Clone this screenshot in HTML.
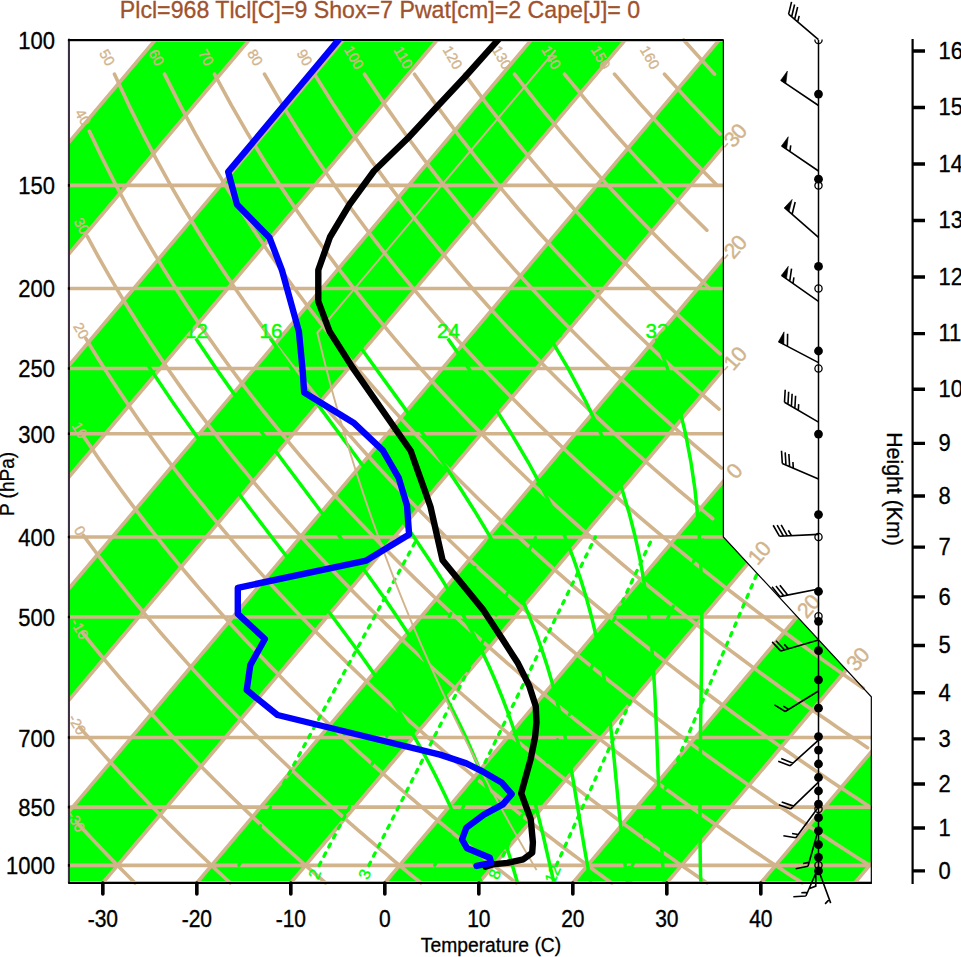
<!DOCTYPE html><html><head><meta charset="utf-8"><style>html,body{margin:0;padding:0;background:#fff;overflow:hidden}svg{display:block}</style></head><body><svg width="961" height="957" viewBox="0 0 961 957" font-family="'Liberation Sans', sans-serif"><defs><clipPath id="clipOut"><path d="M69 882.88 L69 40 L723.36 40 L723.36 536.99 L871.32 696.78 L871.32 882.88 Z"/></clipPath></defs><rect width="961" height="957" fill="#fff"/><path d="M-586.72 920.35 L186.75 2.53 L280.75 2.53 L-492.72 920.35 Z M-398.72 920.35 L374.74 2.53 L468.74 2.53 L-304.73 920.35 Z M-210.73 920.35 L562.74 2.53 L656.74 2.53 L-116.73 920.35 Z M-22.73 920.35 L750.73 2.53 L844.73 2.53 L71.27 920.35 Z M165.26 920.35 L938.73 2.53 L1032.73 2.53 L259.26 920.35 Z M353.26 920.35 L1126.73 2.53 L1220.72 2.53 L447.26 920.35 Z M541.25 920.35 L1314.72 2.53 L1408.72 2.53 L635.25 920.35 Z M729.25 920.35 L1502.72 2.53 L1596.71 2.53 L823.25 920.35 Z" fill="#00FF00" clip-path="url(#clipOut)"/>
<path d="M69.00 882.88 L871.32 882.88 M69.00 865.39 L871.32 865.39 M69.00 807.14 L871.32 807.14 M69.00 737.54 L871.32 737.54 M69.00 616.93 L797.38 616.93 M69.00 536.94 L723.36 536.94 M69.00 433.81 L723.36 433.81 M69.00 368.46 L723.36 368.46 M69.00 288.47 L723.36 288.47 M69.00 185.34 L723.36 185.34 M69.00 40.00 L723.36 40.00" stroke="#D2B48C" stroke-width="3.6" fill="none" clip-path="url(#clipOut)"/>
<path d="M-586.72 920.35 L186.75 2.53 M-492.72 920.35 L280.75 2.53 M-398.72 920.35 L374.74 2.53 M-304.73 920.35 L468.74 2.53 M-210.73 920.35 L562.74 2.53 M-116.73 920.35 L656.74 2.53 M-22.73 920.35 L750.73 2.53 M71.27 920.35 L844.73 2.53 M165.26 920.35 L938.73 2.53 M259.26 920.35 L1032.73 2.53 M353.26 920.35 L1126.73 2.53 M447.26 920.35 L1220.72 2.53 M541.25 920.35 L1314.72 2.53 M635.25 920.35 L1408.72 2.53 M729.25 920.35 L1502.72 2.53 M823.25 920.35 L1596.71 2.53" stroke="#D2B48C" stroke-width="3.6" fill="none" clip-path="url(#clipOut)"/>
<path d="M77.86 823.62 L81.56 827.63 L85.24 831.59 L88.91 835.51 L92.55 839.38 L96.18 843.21 L99.79 847.01 L103.38 850.76 L106.96 854.48 L110.51 858.15 L114.05 861.79 L117.58 865.39 L121.09 868.96 L124.58 872.49 L128.05 875.99 L131.51 879.45 L134.96 882.88 L134.96 882.88 M79.57 727.15 L84.08 732.38 L88.56 737.54 L93.01 742.62 L97.43 747.64 L101.82 752.58 L106.19 757.46 L110.54 762.27 L114.85 767.02 L119.14 771.7 L123.41 776.33 L127.65 780.9 L131.87 785.41 L136.06 789.86 L140.23 794.26 L144.38 798.6 L148.5 802.9 L152.6 807.14 L156.68 811.33 L160.73 815.47 L164.77 819.57 L168.78 823.62 L172.77 827.63 L176.74 831.59 L180.69 835.51 L184.62 839.38 L188.53 843.21 L192.42 847.01 L196.29 850.76 L200.14 854.48 L203.97 858.15 L207.78 861.79 L211.58 865.39 L215.35 868.96 L219.11 872.49 L222.85 875.99 L226.57 879.45 L230.27 882.88 L230.27 882.88 M82.28 632.36 L87.73 639.16 L93.13 645.84 L98.49 652.39 L103.81 658.83 L109.09 665.15 L114.33 671.36 L119.53 677.47 L124.7 683.47 L129.83 689.38 L134.92 695.19 L139.97 700.91 L144.99 706.54 L149.98 712.08 L154.93 717.53 L159.84 722.91 L164.73 728.2 L169.58 733.42 L174.4 738.56 L179.19 743.63 L183.95 748.63 L188.67 753.56 L193.37 758.43 L198.04 763.23 L202.68 767.96 L207.29 772.63 L211.87 777.25 L216.43 781.8 L220.96 786.3 L225.46 790.74 L229.93 795.13 L234.38 799.46 L238.81 803.75 L243.21 807.98 L247.58 812.16 L251.93 816.3 L256.25 820.38 L260.55 824.43 L264.83 828.42 L269.09 832.37 L273.32 836.28 L277.53 840.15 L281.71 843.98 L285.88 847.76 L290.02 851.51 L294.14 855.21 L298.24 858.88 L302.32 862.52 L306.38 866.11 L310.42 869.67 L314.44 873.2 L318.44 876.69 L322.42 880.14 L325.59 882.88 M83.15 535.14 L89.7 544.04 L96.19 552.72 L102.62 561.19 L109 569.47 L115.31 577.56 L121.57 585.47 L127.77 593.22 L133.91 600.8 L140.01 608.22 L146.05 615.49 L152.03 622.62 L157.97 629.6 L163.86 636.46 L169.7 643.18 L175.49 649.79 L181.24 656.27 L186.94 662.64 L192.6 668.89 L198.21 675.04 L203.78 681.09 L209.31 687.03 L214.8 692.88 L220.24 698.63 L225.65 704.29 L231.01 709.87 L236.34 715.36 L241.63 720.77 L246.89 726.09 L252.11 731.34 L257.29 736.51 L262.44 741.61 L267.55 746.64 L272.63 751.6 L277.67 756.49 L282.68 761.31 L287.66 766.07 L292.61 770.77 L297.53 775.41 L302.42 779.99 L307.27 784.51 L312.1 788.97 L316.9 793.38 L321.67 797.74 L326.41 802.04 L331.12 806.29 L335.8 810.5 L340.46 814.65 L345.09 818.76 L349.69 822.82 L354.27 826.83 L358.83 830.8 L363.35 834.73 L367.86 838.61 L372.33 842.45 L376.79 846.25 L381.22 850.01 L385.62 853.74 L390.01 857.42 L394.37 861.07 L398.71 864.68 L403.02 868.25 L407.32 871.79 L411.59 875.29 L415.84 878.76 L420.07 882.2 L420.91 882.88 M83.52 436.2 L91.37 447.87 L99.13 459.18 L106.8 470.14 L114.38 480.78 L121.88 491.11 L129.3 501.16 L136.64 510.92 L143.91 520.43 L151.09 529.7 L158.21 538.72 L165.25 547.53 L172.22 556.13 L179.12 564.52 L185.95 572.73 L192.72 580.75 L199.42 588.59 L206.07 596.27 L212.65 603.78 L219.17 611.14 L225.63 618.36 L232.03 625.43 L238.38 632.36 L244.68 639.16 L250.92 645.84 L257.11 652.39 L263.24 658.83 L269.33 665.15 L275.37 671.36 L281.35 677.47 L287.3 683.47 L293.19 689.38 L299.04 695.19 L304.85 700.91 L310.61 706.54 L316.33 712.08 L322 717.53 L327.64 722.91 L333.23 728.2 L338.79 733.42 L344.3 738.56 L349.78 743.63 L355.22 748.63 L360.62 753.56 L365.99 758.43 L371.32 763.23 L376.62 767.96 L381.88 772.63 L387.1 777.25 L392.3 781.8 L397.46 786.3 L402.58 790.74 L407.68 795.13 L412.75 799.46 L417.78 803.75 L422.78 807.98 L427.76 812.16 L432.7 816.3 L437.62 820.38 L442.5 824.43 L447.36 828.42 L452.19 832.37 L457 836.28 L461.77 840.15 L466.52 843.98 L471.25 847.76 L475.95 851.51 L480.62 855.21 L485.27 858.88 L489.89 862.52 L494.49 866.11 L499.06 869.67 L503.61 873.2 L508.14 876.69 L512.64 880.14 L516.23 882.88 M85.92 338.57 L95.23 353.82 L104.41 368.46 L113.47 382.52 L122.42 396.05 L131.24 409.08 L139.95 421.66 L148.55 433.81 L157.05 445.57 L165.44 456.95 L173.73 467.98 L181.92 478.68 L190.01 489.07 L198.01 499.17 L205.92 508.99 L213.74 518.55 L221.47 527.86 L229.12 536.94 L236.69 545.79 L244.17 554.43 L251.58 562.86 L258.92 571.1 L266.18 579.16 L273.37 587.04 L280.49 594.75 L287.54 602.29 L294.52 609.68 L301.44 616.93 L308.29 624.02 L315.08 630.99 L321.81 637.81 L328.48 644.51 L335.1 651.09 L341.65 657.55 L348.15 663.9 L354.6 670.13 L360.99 676.26 L367.33 682.28 L373.62 688.21 L379.86 694.04 L386.05 699.77 L392.19 705.42 L398.29 710.97 L404.34 716.45 L410.34 721.84 L416.3 727.15 L422.21 732.38 L428.08 737.54 L433.91 742.62 L439.7 747.64 L445.45 752.58 L451.16 757.46 L456.83 762.27 L462.46 767.02 L468.05 771.7 L473.61 776.33 L479.13 780.9 L484.61 785.41 L490.06 789.86 L495.48 794.26 L500.86 798.6 L506.2 802.9 L511.51 807.14 L516.79 811.33 L522.04 815.47 L527.26 819.57 L532.45 823.62 L537.6 827.63 L542.73 831.59 L547.82 835.51 L552.89 839.38 L557.92 843.21 L562.93 847.01 L567.91 850.76 L572.87 854.48 L577.79 858.15 L582.69 861.79 L587.57 865.39 L592.41 868.96 L597.24 872.49 L602.03 875.99 L606.8 879.45 L611.55 882.88 L611.55 882.88 M87.29 236.48 L98.27 256.63 L109.07 275.7 L119.72 293.81 L130.2 311.04 L140.53 327.49 L150.7 343.21 L160.72 358.28 L170.59 372.73 L180.32 386.63 L189.92 400.01 L199.38 412.9 L208.71 425.35 L217.92 437.38 L227.01 449.02 L235.97 460.29 L244.83 471.22 L253.57 481.83 L262.21 492.13 L270.74 502.14 L279.17 511.89 L287.5 521.37 L295.74 530.61 L303.88 539.62 L311.93 548.4 L319.9 556.98 L327.78 565.35 L335.57 573.54 L343.29 581.54 L350.93 589.37 L358.49 597.03 L365.97 604.53 L373.38 611.87 L380.73 619.07 L388 626.13 L395.2 633.05 L402.34 639.84 L409.41 646.5 L416.42 653.04 L423.36 659.47 L430.25 665.78 L437.08 671.98 L443.85 678.08 L450.56 684.07 L457.22 689.97 L463.82 695.77 L470.37 701.47 L476.87 707.09 L483.32 712.63 L489.72 718.07 L496.06 723.44 L502.36 728.73 L508.62 733.94 L514.82 739.07 L520.99 744.14 L527.1 749.13 L533.18 754.05 L539.21 758.91 L545.2 763.7 L551.14 768.43 L557.05 773.1 L562.92 777.71 L568.74 782.26 L574.53 786.75 L580.28 791.18 L586 795.57 L591.67 799.9 L597.32 804.17 L602.92 808.4 L608.49 812.58 L614.03 816.71 L619.53 820.79 L625 824.83 L630.44 828.82 L635.84 832.77 L641.21 836.67 L646.55 840.54 L651.86 844.36 L657.14 848.14 L662.39 851.88 L667.61 855.58 L672.81 859.25 L677.97 862.88 L683.1 866.47 L688.21 870.02 L693.29 873.55 L698.34 877.03 L703.37 880.49 L706.87 882.88 M89.38 131.28 L102.19 158.04 L114.8 182.95 L127.2 206.23 L139.38 228.1 L151.36 248.7 L163.14 268.19 L174.72 286.67 L186.1 304.25 L197.3 321 L208.31 337.01 L219.15 352.33 L229.82 367.02 L240.32 381.14 L250.67 394.72 L260.86 407.8 L270.9 420.42 L280.8 432.62 L290.57 444.41 L300.2 455.83 L309.7 466.89 L319.07 477.62 L328.33 488.05 L337.46 498.17 L346.49 508.02 L355.4 517.61 L364.21 526.94 L372.91 536.04 L381.51 544.91 L390.02 553.57 L398.43 562.03 L406.74 570.29 L414.97 578.36 L423.11 586.26 L431.17 593.98 L439.14 601.55 L447.03 608.95 L454.85 616.21 L462.58 623.32 L470.25 630.3 L477.84 637.14 L485.36 643.85 L492.81 650.44 L500.19 656.91 L507.5 663.27 L514.75 669.51 L521.94 675.65 L529.07 681.68 L536.13 687.62 L543.14 693.46 L550.08 699.2 L556.97 704.86 L563.81 710.42 L570.59 715.9 L577.32 721.3 L584 726.62 L590.62 731.86 L597.19 737.03 L603.72 742.12 L610.2 747.14 L616.63 752.09 L623.01 756.97 L629.35 761.79 L635.64 766.55 L641.89 771.24 L648.09 775.87 L654.26 780.44 L660.38 784.96 L666.46 789.42 L672.5 793.82 L678.5 798.17 L684.46 802.47 L690.38 806.72 L696.27 810.91 L702.11 815.06 L707.93 819.16 L713.7 823.22 L719.44 827.23 L725.15 831.19 L730.82 835.12 L736.46 839 L742.06 842.83 L747.64 846.63 L753.18 850.39 L758.68 854.11 L764.16 857.79 L769.61 861.43 L775.02 865.04 L780.41 868.61 L785.76 872.14 L791.09 875.64 L796.39 879.11 L801.66 882.54 L802.19 882.88 M114.51 74.17 L128.93 105.36 L143.11 134.05 L157.03 160.61 L170.68 185.34 L184.08 208.48 L197.22 230.21 L210.11 250.7 L222.76 270.08 L235.19 288.47 L247.38 305.96 L259.37 322.63 L271.14 338.57 L282.72 353.82 L294.11 368.46 L305.31 382.52 L316.33 396.05 L327.18 409.08 L337.87 421.66 L348.4 433.81 L358.78 445.57 L369.01 456.95 L379.1 467.98 L389.05 478.68 L398.86 489.07 L408.55 499.17 L418.12 508.99 L427.56 518.55 L436.89 527.86 L446.1 536.94 L455.21 545.79 L464.21 554.43 L473.1 562.86 L481.9 571.1 L490.6 579.16 L499.2 587.04 L507.71 594.75 L516.13 602.29 L524.47 609.68 L532.72 616.93 L540.89 624.02 L548.97 630.99 L556.98 637.81 L564.91 644.51 L572.77 651.09 L580.56 657.55 L588.27 663.9 L595.91 670.13 L603.49 676.26 L611 682.28 L618.44 688.21 L625.82 694.04 L633.14 699.77 L640.4 705.42 L647.59 710.97 L654.73 716.45 L661.81 721.84 L668.84 727.15 L675.81 732.38 L682.73 737.54 L689.6 742.62 L696.41 747.64 L703.17 752.58 L709.89 757.46 L716.55 762.27 L723.17 767.02 L729.74 771.7 L736.26 776.33 L742.74 780.9 L749.17 785.41 L755.56 789.86 L761.91 794.26 L768.21 798.6 L774.48 802.9 L780.7 807.14 L786.88 811.33 L793.03 815.47 L799.13 819.57 L805.2 823.62 L811.22 827.63 L817.21 831.59 L823.17 835.51 L829.09 839.38 L834.97 843.21 L840.82 847.01 L846.63 850.76 L852.42 854.48 L858.16 858.15 L863.88 861.79 L869.56 865.39 M164.51 74.17 L180.19 105.36 L195.56 134.05 L210.6 160.61 L225.32 185.34 L239.73 208.48 L253.85 230.21 L267.67 250.7 L281.22 270.08 L294.51 288.47 L307.54 305.96 L320.33 322.63 L332.88 338.57 L345.22 353.82 L357.34 368.46 L369.25 382.52 L380.97 396.05 L392.5 409.08 L403.84 421.66 L415.02 433.81 L426.02 445.57 L436.86 456.95 L447.55 467.98 L458.09 478.68 L468.48 489.07 L478.73 499.17 L488.85 508.99 L498.83 518.55 L508.69 527.86 L518.43 536.94 L528.05 545.79 L537.55 554.43 L546.94 562.86 L556.22 571.1 L565.4 579.16 L574.48 587.04 L583.45 594.75 L592.33 602.29 L601.12 609.68 L609.81 616.93 L618.42 624.02 L626.94 630.99 L635.37 637.81 L643.72 644.51 L652 651.09 L660.19 657.55 L668.31 663.9 L676.35 670.13 L684.32 676.26 L692.22 682.28 L700.05 688.21 L707.81 694.04 L715.5 699.77 L723.13 705.42 L730.69 710.97 L738.2 716.45 L745.64 721.84 L753.02 727.15 L760.35 732.38 L767.61 737.54 L774.82 742.62 L781.98 747.64 L789.08 752.58 L796.13 757.46 L803.12 762.27 L810.07 767.02 L816.96 771.7 L823.81 776.33 L830.61 780.9 L837.36 785.41 L844.06 789.86 L850.72 794.26 L857.33 798.6 L863.9 802.9 L870.43 807.14 M214.5 74.17 L231.45 105.36 L248 134.05 L264.16 160.61 L279.95 185.34 L295.39 208.48 L310.47 230.21 L325.23 250.7 L339.68 270.08 L353.83 288.47 L367.69 305.96 L381.29 322.63 L394.62 338.57 L407.71 353.82 L420.57 368.46 L433.19 382.52 L445.61 396.05 L457.81 409.08 L469.82 421.66 L481.63 433.81 L493.26 445.57 L504.72 456.95 L516.01 467.98 L527.13 478.68 L538.1 489.07 L548.91 499.17 L559.58 508.99 L570.11 518.55 L580.5 527.86 L590.76 536.94 L600.89 545.79 L610.9 554.43 L620.78 562.86 L630.55 571.1 L640.21 579.16 L649.76 587.04 L659.2 594.75 L668.53 602.29 L677.77 609.68 L686.91 616.93 L695.95 624.02 L704.9 630.99 L713.76 637.81 L722.53 644.51 L731.22 651.09 L739.82 657.55 L748.34 663.9 L756.79 670.13 L765.15 676.26 L773.44 682.28 L781.65 688.21 L789.79 694.04 L797.86 699.77 L805.86 705.42 L813.8 710.97 L821.66 716.45 L829.47 721.84 L837.2 727.15 L844.88 732.38 L852.49 737.54 L860.05 742.62 L867.55 747.64 M264.5 74.17 L282.71 105.36 L300.45 134.05 L317.73 160.61 L334.59 185.34 L351.04 208.48 L367.1 230.21 L382.79 250.7 L398.14 270.08 L413.15 288.47 L427.85 305.96 L442.25 322.63 L456.37 338.57 L470.21 353.82 L483.8 368.46 L497.14 382.52 L510.24 396.05 L523.12 409.08 L535.79 421.66 L548.25 433.81 L560.51 445.57 L572.58 456.95 L584.46 467.98 L596.17 478.68 L607.72 489.07 L619.09 499.17 L630.32 508.99 L641.38 518.55 L652.31 527.86 L663.09 536.94 L673.73 545.79 L684.24 554.43 L694.62 562.86 L704.88 571.1 L715.01 579.16 L725.03 587.04 L734.94 594.75 L744.73 602.29 L754.42 609.68 L764 616.93 L773.48 624.02 L782.87 630.99 L792.15 637.81 L801.34 644.51 L810.45 651.09 L819.46 657.55 L828.38 663.9 L837.22 670.13 L845.98 676.26 L854.66 682.28 L863.26 688.21 M314.5 74.17 L333.97 105.36 L352.89 134.05 L371.3 160.61 L389.23 185.34 L406.69 208.48 L423.73 230.21 L440.35 250.7 L456.6 270.08 L472.47 288.47 L488 305.96 L503.21 322.63 L518.11 338.57 L532.71 353.82 L547.03 368.46 L561.08 382.52 L574.88 396.05 L588.44 409.08 L601.76 421.66 L614.86 433.81 L627.75 445.57 L640.43 456.95 L652.92 467.98 L665.22 478.68 L677.33 489.07 L689.28 499.17 L701.05 508.99 L712.66 518.55 M364.5 74.17 L385.23 105.36 L405.34 134.05 L424.87 160.61 L443.86 185.34 L462.35 208.48 L480.35 230.21 L497.91 250.7 L515.05 270.08 L531.79 288.47 L548.16 305.96 L564.17 322.63 L579.85 338.57 L595.2 353.82 L610.26 368.46 L625.03 382.52 L639.52 396.05 L653.75 409.08 L667.73 421.66 L681.48 433.81 L694.99 445.57 L708.29 456.95 L721.38 467.98 M414.5 74.17 L436.48 105.36 L457.78 134.05 L478.44 160.61 L498.5 185.34 L518 208.48 L536.98 230.21 L555.48 250.7 L573.51 270.08 L591.12 288.47 L608.31 305.96 L625.13 322.63 L641.59 338.57 L657.7 353.82 L673.49 368.46 L688.97 382.52 L704.16 396.05 L719.07 409.08 M464.5 74.17 L487.74 105.36 L510.23 134.05 L532.01 160.61 L553.13 185.34 L573.66 208.48 L593.61 230.21 L613.04 250.7 L631.97 270.08 L650.44 288.47 L668.47 305.96 L686.09 322.63 L703.33 338.57 L720.2 353.82 M514.49 74.17 L539 105.36 L562.67 134.05 L585.58 160.61 L607.77 185.34 L629.31 208.48 L650.24 230.21 L670.6 250.7 L690.43 270.08 L709.76 288.47 M564.49 74.17 L590.26 105.36 L615.12 134.05 L639.14 160.61 L662.41 185.34 L684.96 208.48 L706.86 230.21 M614.49 74.17 L641.52 105.36 L667.56 134.05 L692.71 160.61 L717.04 185.34 M664.49 74.17 L692.77 105.36 L720.01 134.05 M683.7 40 L714.49 74.17" stroke="#D2B48C" stroke-width="3.6" fill="none" stroke-linecap="round" stroke-linejoin="round"/>
<path d="M656.28 338.57 L667.47 368.46 L677.99 402.62 L685.58 433.81 L691.01 462.51 L694.91 489.07 L697.52 513.8 L699.33 536.94 L700.52 558.67 L701.25 579.16 L701.64 598.54 L701.8 616.93 L701.8 634.42 L701.71 651.09 L701.51 667.03 L701.28 682.28 L701.04 696.92 L700.82 710.97 L700.63 724.5 L700.51 737.54 L700.43 750.12 L700.31 762.27 L700.23 774.02 L700.14 785.41 L700.06 796.44 L700.01 807.14 L699.98 817.53 L699.99 827.63 L700.02 837.45 L700.09 847.01 L700.21 856.32 L700.36 865.39 L700.56 874.25 L700.82 882.88 M550.53 338.57 L568.1 368.46 L586.32 402.62 L601 433.81 L612.69 462.51 L621.97 489.07 L629.36 513.8 L635.21 536.94 L639.92 558.67 L643.54 579.16 L646.45 598.54 L648.76 616.93 L650.6 634.42 L652.11 651.09 L653.27 667.03 L654.22 682.28 L655.01 696.92 L655.67 710.97 L656.24 724.5 L656.75 737.54 L657.22 750.12 L657.64 762.27 L658.12 774.02 L658.62 785.41 L659.15 796.44 L659.66 807.14 L660.15 817.53 L660.64 827.63 L661.14 837.45 L661.64 847.01 L662.2 856.32 L662.77 865.39 L663.37 874.25 L664.02 882.88 M447.83 338.57 L468.65 368.46 L491.64 402.62 L511.47 433.81 L528.4 462.51 L542.78 489.07 L554.88 513.8 L565.02 536.94 L573.51 558.67 L580.61 579.16 L586.55 598.54 L591.52 616.93 L595.7 634.42 L599.21 651.09 L602.18 667.03 L604.72 682.28 L606.89 696.92 L608.78 710.97 L610.43 724.5 L611.9 737.54 L613.22 750.12 L614.44 762.27 L615.55 774.02 L616.64 785.41 L617.69 796.44 L618.71 807.14 L619.74 817.53 L620.79 827.63 L621.9 837.45 L622.97 847.01 L624.07 856.32 L625.17 865.39 L626.27 874.25 L627.41 882.88 M354.13 338.57 L375.79 368.46 L400.58 402.62 L422.93 433.81 L442.93 462.51 L460.69 489.07 L476.42 513.8 L490.22 536.94 L502.25 558.67 L512.72 579.16 L521.8 598.54 L529.66 616.93 L536.5 634.42 L542.36 651.09 L547.53 667.03 L552.01 682.28 L555.94 696.92 L559.41 710.97 L562.49 724.5 L565.24 737.54 L567.72 750.12 L569.96 762.27 L572.07 774.02 L574.02 785.41 L575.87 796.44 L577.63 807.14 L579.33 817.53 L580.99 827.63 L582.63 837.45 L584.25 847.01 L585.9 856.32 L587.57 865.39 L589.2 874.25 L590.78 882.88 M270.29 338.57 L291.55 368.46 L316.4 402.62 L339.39 433.81 L360.53 462.51 L379.99 489.07 L397.78 513.8 L413.95 536.94 L428.57 558.67 L441.73 579.16 L453.53 598.54 L464.08 616.93 L473.49 634.42 L481.88 651.09 L489.35 667.03 L496.01 682.28 L501.96 696.92 L507.3 710.97 L512.09 724.5 L516.43 737.54 L520.38 750.12 L524 762.27 L527.34 774.02 L530.44 785.41 L533.34 796.44 L536.09 807.14 L538.7 817.53 L541.21 827.63 L543.57 837.45 L545.76 847.01 L547.9 856.32 L549.97 865.39 L551.98 874.25 L553.98 882.88 M195.83 338.57 L216.11 368.46 L240.17 402.62 L262.82 433.81 L284.09 462.51 L304 489.07 L322.61 513.8 L339.93 536.94 L356.02 558.67 L370.9 579.16 L384.62 598.54 L397.22 616.93 L408.77 634.42 L419.34 651.09 L428.98 667.03 L437.77 682.28 L445.78 696.92 L453.08 710.97 L459.78 724.5 L465.91 737.54 L471.53 750.12 L476.72 762.27 L481.54 774.02 L486.02 785.41 L490.11 796.44 L493.89 807.14 L497.42 817.53 L500.72 827.63 L503.84 837.45 L506.78 847.01 L509.64 856.32 L512.37 865.39 L515 874.25 L517.58 882.88 M130.96 338.57 L150.08 368.46 L173 402.62 L194.83 433.81 L215.59 462.51 L235.29 489.07 L253.97 513.8 L271.64 536.94 L288.33 558.67 L304.06 579.16 L318.86 598.54 L332.75 616.93 L345.75 634.42 L357.91 651.09 L369.24 667.03 L379.79 682.28 L389.59 696.92 L398.71 710.97 L407.04 724.5 L414.78 737.54 L421.92 750.12 L428.53 762.27 L434.66 774.02 L440.34 785.41 L445.64 796.44 L450.58 807.14 L455.21 817.53 L459.56 827.63 L463.67 837.45 L467.53 847.01 L471.25 856.32 L474.77 865.39 L478.14 874.25 L481.39 882.88" stroke="#00FF00" stroke-width="3.5" fill="none" clip-path="url(#clipOut)"/>
<path d="M632.48 865.39 L772.72 536.94 M556.31 865.39 L704.59 536.94 M498.59 865.39 L652.81 536.94 M434.71 865.39 L595.35 536.94 M368.86 865.39 L535.92 536.94 M319.13 865.39 L490.9 536.94 M238.92 865.39 L418.03 536.94" stroke="#00FF00" stroke-width="3.3" fill="none" stroke-dasharray="3.5 6.9" stroke-linecap="round" clip-path="url(#clipOut)"/>
<g fill="#D2B48C" stroke="#D2B48C" stroke-width="0.35" font-size="14.5" text-anchor="middle"><text x="76.0" y="821.6" transform="rotate(60 76.0 821.6)" dy="0.35em">-30</text><text x="77.3" y="724.5" transform="rotate(60 77.3 724.5)" dy="0.35em">-20</text><text x="79.5" y="628.9" transform="rotate(60 79.5 628.9)" dy="0.35em">-10</text><text x="79.8" y="530.6" transform="rotate(60 79.8 530.6)" dy="0.35em">0</text><text x="79.6" y="430.2" transform="rotate(60 79.6 430.2)" dy="0.35em">10</text><text x="81.2" y="330.7" transform="rotate(60 81.2 330.7)" dy="0.35em">20</text><text x="81.7" y="226.0" transform="rotate(60 81.7 226.0)" dy="0.35em">30</text><text x="82.9" y="117.1" transform="rotate(60 82.9 117.1)" dy="0.35em">40</text><text x="107.2" y="57.5" transform="rotate(60 107.2 57.5)" dy="0.35em">50</text><text x="156.5" y="57.5" transform="rotate(60 156.5 57.5)" dy="0.35em">60</text><text x="205.9" y="57.5" transform="rotate(60 205.9 57.5)" dy="0.35em">70</text><text x="255.2" y="57.5" transform="rotate(60 255.2 57.5)" dy="0.35em">80</text><text x="304.6" y="57.5" transform="rotate(60 304.6 57.5)" dy="0.35em">90</text><text x="353.9" y="57.5" transform="rotate(60 353.9 57.5)" dy="0.35em">100</text><text x="403.2" y="57.5" transform="rotate(60 403.2 57.5)" dy="0.35em">110</text><text x="452.6" y="57.5" transform="rotate(60 452.6 57.5)" dy="0.35em">120</text><text x="501.9" y="57.5" transform="rotate(60 501.9 57.5)" dy="0.35em">130</text><text x="551.2" y="57.5" transform="rotate(60 551.2 57.5)" dy="0.35em">140</text><text x="600.6" y="57.5" transform="rotate(60 600.6 57.5)" dy="0.35em">150</text><text x="649.9" y="57.5" transform="rotate(60 649.9 57.5)" dy="0.35em">160</text></g>
<g fill="#D2B48C" stroke="#D2B48C" stroke-width="0.4" font-size="21.5" text-anchor="middle"><path d="M724.36 147.24 L727.90 143.16" stroke="#D2B48C" stroke-width="1.6"/><text x="731.47" y="139.05" transform="rotate(-49.0 731.47 139.05)" dy="0.36em">3</text><text x="738.56" y="130.90" transform="rotate(-49.0 738.56 130.90)" dy="0.36em">0</text><path d="M724.42 258.70 L727.96 254.63" stroke="#D2B48C" stroke-width="1.6"/><text x="731.54" y="250.51" transform="rotate(-49.0 731.54 250.51)" dy="0.36em">2</text><text x="738.63" y="242.36" transform="rotate(-49.0 738.63 242.36)" dy="0.36em">0</text><path d="M724.33 370.35 L727.87 366.27" stroke="#D2B48C" stroke-width="1.6"/><text x="731.45" y="362.16" transform="rotate(-49.0 731.45 362.16)" dy="0.36em">1</text><text x="738.53" y="354.01" transform="rotate(-49.0 738.53 354.01)" dy="0.36em">0</text><text x="734.21" y="470.53" transform="rotate(-49.0 734.21 470.53)" dy="0.36em">0</text><text x="755.59" y="556.58" transform="rotate(-49.0 755.59 556.58)" dy="0.36em">1</text><text x="762.68" y="548.42" transform="rotate(-49.0 762.68 548.42)" dy="0.36em">0</text><text x="804.76" y="609.78" transform="rotate(-49.0 804.76 609.78)" dy="0.36em">2</text><text x="811.84" y="601.63" transform="rotate(-49.0 811.84 601.63)" dy="0.36em">0</text><text x="854.08" y="662.79" transform="rotate(-49.0 854.08 662.79)" dy="0.36em">3</text><text x="861.16" y="654.64" transform="rotate(-49.0 861.16 654.64)" dy="0.36em">0</text></g>
<g fill="#00FF00" stroke="#00FF00" stroke-width="0.45" font-size="20.5" text-anchor="middle" clip-path="url(#clipOut)"><text x="657.0" y="338.0">32</text><text x="551.2" y="338.0">28</text><text x="448.5" y="338.0">24</text><text x="354.8" y="338.0">20</text><text x="271.0" y="338.0">16</text><text x="196.5" y="338.0">12</text><text x="131.7" y="338.0">8</text></g>
<g fill="#00FF00" stroke="#00FF00" stroke-width="0.35" font-size="16" text-anchor="middle" clip-path="url(#clipOut)"><text x="628.9" y="874.2" transform="rotate(-67 628.9 874.2)" dy="0.35em">20</text><text x="552.5" y="874.2" transform="rotate(-67 552.5 874.2)" dy="0.35em">12</text><text x="494.6" y="874.2" transform="rotate(-67 494.6 874.2)" dy="0.35em">8</text><text x="430.6" y="874.2" transform="rotate(-67 430.6 874.2)" dy="0.35em">5</text><text x="364.5" y="874.2" transform="rotate(-67 364.5 874.2)" dy="0.35em">3</text><text x="314.6" y="874.2" transform="rotate(-67 314.6 874.2)" dy="0.35em">2</text><text x="234.2" y="874.2" transform="rotate(-67 234.2 874.2)" dy="0.35em">1</text></g>
<path d="M69 882.88 L69 40 L723.36 40 L723.36 536.99 L871.32 696.78 L871.32 882.88 Z" stroke="#000" stroke-width="1.2" fill="none"/>
<path d="M68.9 40 L68.9 883" stroke="#3a3040" stroke-width="2" fill="none"/>
<path d="M68.2 40 L723.4 40" stroke="#000" stroke-width="1.8" fill="none"/>
<path d="M68.2 883 L871.8 883" stroke="#000" stroke-width="1.8" fill="none"/>
<path d="M102.84 883 L102.84 894 M196.84 883 L196.84 894 M290.83 883 L290.83 894 M384.83 883 L384.83 894 M478.83 883 L478.83 894 M572.83 883 L572.83 894 M666.83 883 L666.83 894 M760.82 883 L760.82 894" stroke="#000" stroke-width="3.6" stroke-linecap="round" fill="none"/>
<g font-size="21" text-anchor="middle" fill="#000" stroke="#000" stroke-width="0.35"><text transform="translate(102.84 927.2) scale(1 1.16)">-30</text><text transform="translate(196.84 927.2) scale(1 1.16)">-20</text><text transform="translate(290.83 927.2) scale(1 1.16)">-10</text><text transform="translate(384.83 927.2) scale(1 1.16)">0</text><text transform="translate(478.83 927.2) scale(1 1.16)">10</text><text transform="translate(572.83 927.2) scale(1 1.16)">20</text><text transform="translate(666.83 927.2) scale(1 1.16)">30</text><text transform="translate(760.82 927.2) scale(1 1.16)">40</text></g>
<path d="M67.9 40.00 L69.9 40.00 M67.9 185.34 L69.9 185.34 M67.9 288.47 L69.9 288.47 M67.9 368.46 L69.9 368.46 M67.9 433.81 L69.9 433.81 M67.9 536.94 L69.9 536.94 M67.9 616.93 L69.9 616.93 M67.9 737.54 L69.9 737.54 M67.9 807.14 L69.9 807.14 M67.9 865.39 L69.9 865.39" stroke="#000" stroke-width="2.6" fill="none"/>
<g font-size="22" text-anchor="end" fill="#000" stroke="#000" stroke-width="0.3"><text transform="translate(54.9 49.00) scale(1 1.08)">100</text><text transform="translate(54.9 194.34) scale(1 1.08)">150</text><text transform="translate(54.9 297.47) scale(1 1.08)">200</text><text transform="translate(54.9 377.46) scale(1 1.08)">250</text><text transform="translate(54.9 442.81) scale(1 1.08)">300</text><text transform="translate(54.9 545.94) scale(1 1.08)">400</text><text transform="translate(54.9 625.93) scale(1 1.08)">500</text><text transform="translate(54.9 746.54) scale(1 1.08)">700</text><text transform="translate(54.9 816.14) scale(1 1.08)">850</text><text transform="translate(54.9 874.39) scale(1 1.08)">1000</text></g>
<text transform="translate(491 952.3) scale(1 1.065)" font-size="19.3" text-anchor="middle" fill="#000" stroke="#000" stroke-width="0.3">Temperature (C)</text>
<text transform="translate(13.5 484) rotate(-90) scale(1 1.06)" font-size="19" text-anchor="middle" fill="#000" stroke="#000" stroke-width="0.3">P (hPa)</text>
<text transform="translate(119.8 18.2) scale(1 1.05)" font-size="23.17" fill="#A0522D" stroke="#A0522D" stroke-width="0.3">Plcl=968 Tlcl[C]=9 Shox=7 Pwat[cm]=2 Cape[J]= 0</text>
<path d="M912.6 39 L912.6 884" stroke="#000" stroke-width="2.2" fill="none"/>
<path d="M912.6 870.91 L925 870.91 M912.6 827.93 L925 827.93 M912.6 783.94 L925 783.94 M912.6 738.89 L925 738.89 M912.6 692.75 L925 692.75 M912.6 645.45 L925 645.45 M912.6 596.92 L925 596.92 M912.6 547.12 L925 547.12 M912.6 495.96 L925 495.96 M912.6 443.37 L925 443.37 M912.6 389.28 L925 389.28 M912.6 333.59 L925 333.59 M912.6 277.06 L925 277.06 M912.6 220.53 L925 220.53 M912.6 164.01 L925 164.01 M912.6 107.48 L925 107.48 M912.6 50.96 L925 50.96" stroke="#000" stroke-width="3.4" fill="none"/>
<g font-size="22" fill="#000" stroke="#000" stroke-width="0.3"><text transform="translate(938.5 878.71) scale(1 1.08)">0</text><text transform="translate(938.5 835.73) scale(1 1.08)">1</text><text transform="translate(938.5 791.74) scale(1 1.08)">2</text><text transform="translate(938.5 746.69) scale(1 1.08)">3</text><text transform="translate(938.5 700.55) scale(1 1.08)">4</text><text transform="translate(938.5 653.25) scale(1 1.08)">5</text><text transform="translate(938.5 604.72) scale(1 1.08)">6</text><text transform="translate(938.5 554.92) scale(1 1.08)">7</text><text transform="translate(938.5 503.76) scale(1 1.08)">8</text><text transform="translate(938.5 451.17) scale(1 1.08)">9</text><text transform="translate(938.5 397.08) scale(1 1.08)">10</text><text transform="translate(938.5 341.39) scale(1 1.08)">11</text><text transform="translate(938.5 284.86) scale(1 1.08)">12</text><text transform="translate(938.5 228.33) scale(1 1.08)">13</text><text transform="translate(938.5 171.81) scale(1 1.08)">14</text><text transform="translate(938.5 115.28) scale(1 1.08)">15</text><text transform="translate(938.5 58.76) scale(1 1.08)">16</text></g>
<text transform="translate(887 489) rotate(90) scale(1 1.06)" font-size="21.3" text-anchor="middle" fill="#000" stroke="#000" stroke-width="0.3">Height (Km)</text><path d="M536.59 870.11 L524.05 848.74 L511.72 827.13 L499.6 805.26 L487.69 783.14 L476.01 760.75 L464.55 738.09 L453.33 715.16 L442.34 691.95 L431.6 668.45 L421.11 644.65 L410.87 620.54 L400.9 596.12 L391.2 571.38 L381.77 546.32 L372.63 520.91 L363.79 495.16 L355.24 469.05 L347 442.57 L339.08 415.72 L331.49 388.48 L324.24 360.84 L317.33 332.79 L341.14 304.52 L364.96 276.26 L388.78 248 L412.6 219.73 L436.42 191.47 L460.23 163.21 L484.05 134.94 L507.87 106.68 L531.69 78.42 L555.51 50.16" stroke="#D2B48C" stroke-width="1.9" fill="none" clip-path="url(#clipOut)"/>
<defs><clipPath id="clipPlot"><rect x="0" y="40" width="961" height="843"/></clipPath></defs>
<g clip-path="url(#clipPlot)">
<path d="M500.6 37 L498 40 L465.8 76 L435.6 108.2 L408.5 137.5 L374 171 L349.5 204.5 L330 237 L318.3 270 L318.3 301.4 L329.6 331.5 L352.8 367.9 L410.8 451 L417 468.7 L426 493.8 L430.5 506.8 L442.6 560.3 L483.6 610.4 L501.4 637.6 L517.5 662.4 L529.2 685.8 L535.8 706.3 L536.5 722.4 L535.1 737 L530.7 759 L521.2 793.4 L530.7 819 L532.9 842.4 L532.2 852.7 L523.4 859.3 L507.3 862.9 L492.7 864.4 L485.4 866.6" stroke="#000" stroke-width="6.4" fill="none" stroke-linejoin="round" stroke-linecap="round"/>
<path d="M341 37 L338.5 40 L228.2 171.9 L237 204.5 L269.6 237.8 L282 270.3 L298.9 331.5 L302.6 370 L304.2 392.6 L353.5 422.7 L382.8 450.3 L398.7 477.9 L407 505.5 L409.1 534.5 L366.3 560.6 L237.8 587.8 L237.8 613.9 L264.9 639 L250.3 665.1 L246.7 690.1 L277.5 715 L379.9 740 L440 754.6 L466.3 763.4 L483.9 772.2 L501.5 782.4 L511.7 794.1 L502.9 804.4 L483.9 814.6 L466.3 827.8 L462 839.5 L467.1 848.3 L489.8 857.8 L491.2 862.9 L476.6 865.9" stroke="#0000FF" stroke-width="6.4" fill="none" stroke-linejoin="round" stroke-linecap="round"/>
</g>
<path d="M818.5 40 L818.5 870" stroke="#000" stroke-width="1.5" fill="none"/>
<path d="M818.50 39.70 L788.60 14.10 M788.60 14.10 L791.56 1.85 M791.64 16.70 L794.59 4.45 M794.68 19.30 L797.63 7.05 M797.72 21.90 L799.17 15.88 M818.50 105.50 L780.80 80.20 M818.50 171.00 L781.60 145.80 M789.94 151.50 L790.73 145.35 M818.50 237.30 L784.50 207.60 M792.11 214.24 L795.18 202.03 M818.50 301.40 L781.50 275.30 M789.75 281.12 L791.55 268.65 M793.02 283.43 L793.91 277.29 M818.50 362.60 L778.50 341.60 M787.44 346.29 L787.60 333.70 M818.50 422.10 L784.50 402.30 M784.50 402.30 L785.21 389.72 M787.96 404.31 L788.66 391.73 M791.41 406.33 L792.12 393.75 M794.87 408.34 L795.58 395.76 M798.33 410.35 L798.67 404.16 M818.50 479.10 L782.30 463.40 M782.30 463.40 L781.52 450.82 M785.97 464.99 L785.19 452.42 M789.64 466.58 L788.86 454.01 M793.31 468.17 L792.92 461.99 M818.50 534.40 L779.40 536.20 M779.40 536.20 L773.17 525.25 M783.40 536.02 L777.17 525.06 M787.39 535.83 L781.16 524.88 M791.39 535.65 L788.32 530.26 M818.50 589.00 L779.80 596.60 M779.80 596.60 L772.02 586.69 M783.73 595.83 L775.95 585.92 M787.65 595.06 L779.87 585.14 M818.50 640.10 L780.80 651.10 M780.80 651.10 L772.16 641.92 M784.64 649.98 L776.00 640.80 M788.48 648.86 L784.23 644.34 M818.50 691.00 L785.20 711.50 M785.20 711.50 L774.44 704.94 M788.61 709.40 L783.31 706.17 M818.50 740.20 L790.00 765.80 M790.00 765.80 L778.24 761.27 M792.98 763.13 L781.22 758.60 M818.50 782.20 L790.70 808.90 M790.70 808.90 L778.80 804.77 M793.58 806.13 L781.68 801.99 M818.50 807.00 L795.80 837.80 M795.80 837.80 L783.37 835.74 M798.17 834.58 L792.06 833.57 M818.50 829.00 L808.00 866.20 M808.00 866.20 L795.64 868.66 M809.09 862.35 L803.01 863.56 M818.50 867.00 L805.90 896.00 M805.90 896.00 L793.32 896.77 M807.49 892.33 L801.31 892.71 M818.50 870.00 L830.70 903.10 M829.32 899.35 L825.11 903.90 M815.8 874 L815.8 886.1 L809.6 888.5" stroke="#000" stroke-width="1.6" fill="none" stroke-linejoin="miter"/>
<path d="M780.80 80.20 L785.87 83.60 L787.37 71.09 Z M781.60 145.80 L786.64 149.24 L788.24 136.74 Z M784.50 207.60 L789.09 211.61 L792.17 199.39 Z M781.50 275.30 L786.48 278.82 L788.28 266.34 Z M778.50 341.60 L783.90 344.44 L784.05 331.84 Z" fill="#000" stroke="#000" stroke-width="0.6" stroke-linejoin="miter"/>
<defs><clipPath id="clipTop"><rect x="0" y="39.5" width="961" height="900"/></clipPath></defs>
<g clip-path="url(#clipTop)"><circle cx="818.5" cy="40.0" r="3.6" fill="none" stroke="#000" stroke-width="1.3"/><circle cx="818.5" cy="185.6" r="3.6" fill="none" stroke="#000" stroke-width="1.3"/><circle cx="818.5" cy="288.4" r="3.6" fill="none" stroke="#000" stroke-width="1.3"/><circle cx="818.5" cy="368.5" r="3.6" fill="none" stroke="#000" stroke-width="1.3"/><circle cx="818.5" cy="537.0" r="3.6" fill="none" stroke="#000" stroke-width="1.3"/><circle cx="818.5" cy="616.3" r="3.6" fill="none" stroke="#000" stroke-width="1.3"/><circle cx="818.5" cy="808.9" r="3.6" fill="none" stroke="#000" stroke-width="1.3"/><circle cx="818.5" cy="865.3" r="3.6" fill="none" stroke="#000" stroke-width="1.3"/></g>
<circle cx="818.5" cy="94.1" r="4.4" fill="#000"/><circle cx="818.5" cy="179.2" r="4.4" fill="#000"/><circle cx="818.5" cy="266.4" r="4.4" fill="#000"/><circle cx="818.5" cy="351.0" r="4.4" fill="#000"/><circle cx="818.5" cy="434.1" r="4.4" fill="#000"/><circle cx="818.5" cy="514.6" r="4.4" fill="#000"/><circle cx="818.5" cy="591.5" r="4.4" fill="#000"/><circle cx="818.5" cy="621.3" r="4.4" fill="#000"/><circle cx="818.5" cy="650.7" r="4.4" fill="#000"/><circle cx="818.5" cy="679.8" r="4.4" fill="#000"/><circle cx="818.5" cy="708.2" r="4.4" fill="#000"/><circle cx="818.5" cy="736.6" r="4.4" fill="#000"/><circle cx="818.5" cy="750.1" r="4.4" fill="#000"/><circle cx="818.5" cy="764.0" r="4.4" fill="#000"/><circle cx="818.5" cy="777.5" r="4.4" fill="#000"/><circle cx="818.5" cy="791.0" r="4.4" fill="#000"/><circle cx="818.5" cy="804.1" r="4.4" fill="#000"/><circle cx="818.5" cy="817.7" r="4.4" fill="#000"/><circle cx="818.5" cy="830.8" r="4.4" fill="#000"/><circle cx="818.5" cy="844.6" r="4.4" fill="#000"/><circle cx="818.5" cy="857.3" r="4.4" fill="#000"/><circle cx="818.5" cy="870.8" r="4.4" fill="#000"/></svg></body></html>
